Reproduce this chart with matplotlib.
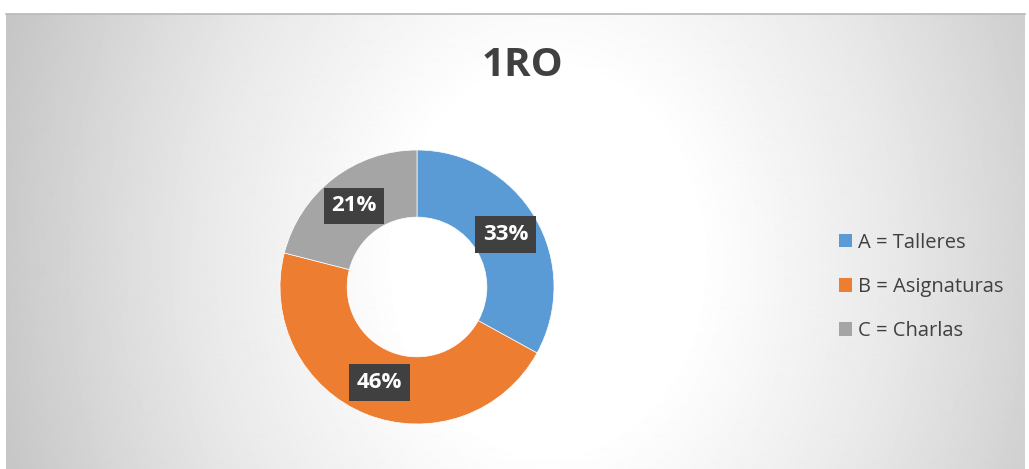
import numpy as np
import matplotlib
matplotlib.use("Agg")
import matplotlib.pyplot as plt
from matplotlib.patches import Patch

# ── Data ──────────────────────────────────────────────────────────────────────
TITLE = "1RO"
labels = ["A = Talleres", "B = Asignaturas", "C = Charlas"]
values = [33, 46, 21]
colors = ["#5B9BD5", "#ED7D31", "#A5A5A5"]

W, H = 1029, 469
plt.rcParams["font.family"] = ["Open Sans", "DejaVu Sans"]

fig = plt.figure(figsize=(W / 100, H / 100), dpi=100, facecolor="white")

# ── Radial gradient background (white centre, grey edges) ────────────────────
x0, x1, y_top = 6, 1025, 14
bg = fig.add_axes([x0 / W, 0, (x1 - x0) / W, (H - y_top) / H])
xx, yy = np.meshgrid(np.arange(x0, x1), np.arange(y_top, H))
e = np.sqrt((xx - 548) ** 2 + ((yy - 260) * 0.8) ** 2)
shade = np.interp(e, [0, 150, 350, 450, 560, 700],
                  [1.0, 1.0, 0.91, 0.85, 0.78, 0.72])
bg.imshow(shade, cmap="gray", vmin=0, vmax=1, aspect="auto",
          interpolation="bilinear")
bg.set_axis_off()
fig.add_artist(plt.Line2D([x0 / W, x1 / W], [(H - y_top) / H] * 2,
                          color="#b8b8b8", lw=1.2))

# ── Donut ────────────────────────────────────────────────────────────────────
cx, cy, r = 417, 287, 137
ax = fig.add_axes([(cx - r) / W, (H - cy - r) / H, 2 * r / W, 2 * r / H])
wedges, _, autotexts = ax.pie(
    values, colors=colors, startangle=90, counterclock=False, radius=1,
    autopct="%d%%", pctdistance=0.75,
    wedgeprops=dict(width=0.49, edgecolor="white", linewidth=0.5),
    textprops=dict(color="white", fontsize=16, fontweight="bold"),
)
for t in autotexts:
    t.set_bbox(dict(boxstyle="square,pad=0.35", fc="#404040", ec="none"))
ax.set_xlim(-1, 1)
ax.set_ylim(-1, 1)
ax.set_axis_off()

# ── Title ────────────────────────────────────────────────────────────────────
fig.text(523 / W, 1 - 66 / H, TITLE, ha="center", va="center",
         fontsize=29, fontweight="bold", color="#404040")

# ── Legend ───────────────────────────────────────────────────────────────────
handles = [Patch(facecolor=c, edgecolor="none") for c in colors]
fig.legend(handles, labels, loc="center left",
           bbox_to_anchor=(829 / W, 1 - 287 / H), frameon=False,
           fontsize=14.5, labelcolor="#404040", handlelength=0.65,
           handleheight=0.65, handletextpad=0.3, labelspacing=1.2,
           borderpad=0)

plt.savefig("out.png", dpi=100, facecolor="white")
plt.close()
